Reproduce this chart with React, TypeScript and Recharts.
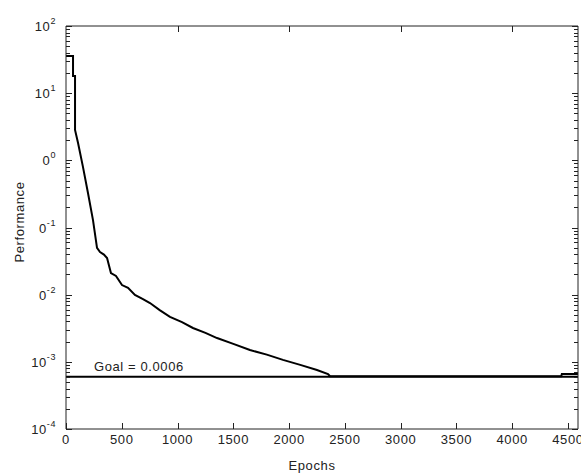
import { LineChart, Line, XAxis, YAxis, ReferenceLine, Label } from "recharts";

// training record (epoch, performance)
const epochs = [
  0, 63, 63, 81, 81, 108, 152, 197, 242, 278, 305, 340, 368, 403, 448, 502, 556,
  618, 690, 753, 840, 932, 1040, 1138, 1250, 1354, 1500, 1649, 1800, 1945, 2100,
  2250, 2349, 2367, 4440, 4445, 4590,
];
const performance = [
  35.7, 35.7, 18, 18, 2.83, 1.81, 0.8, 0.327, 0.129, 0.0496, 0.0432, 0.0395,
  0.0352, 0.021, 0.019, 0.0139, 0.0126, 0.00989, 0.0086, 0.00751, 0.0059,
  0.00466, 0.0039, 0.00319, 0.0027, 0.00226, 0.00185, 0.0015, 0.00128, 0.00107,
  0.0009, 0.000757, 0.000659, 0.00061, 0.00061, 0.00066, 0.00066,
];

const goal = 0.0006;
const goalLabel = "Goal = 0.0006";
const goalEpochs = [0, 4590];

const xTicks = [0, 500, 1000, 1500, 2000, 2500, 3000, 3500, 4000, 4500];
const xTopTicks = [1000, 2000, 3000, 4000];

// decades on the log axis; the left-most "1" is hidden in the original for 3 of them
const yMajor = [1e-4, 1e-3, 1e-2, 1e-1, 1, 10, 100];
const yBase = ["10", "10", "0", "0", "0", "10", "10"];
const yExp = ["-4", "-3", "-2", "-1", "0", "1", "2"];
const minorSteps = [2, 3, 4, 5, 6, 7, 8, 9];

const yTicks: number[] = [];
yMajor.forEach((d, i) => {
  yTicks.push(d);
  if (i < yMajor.length - 1) minorSteps.forEach((m) => yTicks.push(d * m));
});

const data = epochs.map((e, i) => ({ epoch: e, perf: performance[i] }));
const goalData = goalEpochs.map((e) => ({ epoch: e, goal }));

const AXIS = "#222";
const TEXT = "#222";
const FONT = "'Liberation Sans', Arial, sans-serif";

const px = (v: number) => Math.round(v) + 0.5;

function LeftTick(props: any) {
  const { x, y, payload } = props;
  const i = yMajor.indexOf(payload.value);
  const yy = px(y);
  const tick = (
    <line x1={x} x2={x + (i < 0 ? 4 : 6)} y1={yy} y2={yy} stroke={AXIS} shapeRendering="crispEdges" />
  );
  if (i < 0) return tick;
  return (
    <g>
      {tick}
      <text
        x={x - 10}
        y={y + 5}
        textAnchor="end"
        fontSize={13}
        letterSpacing={0.6}
        fill={TEXT}
        fontFamily={FONT}
      >
        {yBase[i]}
        <tspan dy={-7} fontSize={9}>
          {yExp[i]}
        </tspan>
      </text>
    </g>
  );
}

function RightTick(props: any) {
  const { x, y, payload } = props;
  const major = yMajor.indexOf(payload.value) >= 0;
  const yy = px(y);
  return (
    <line x1={x} x2={x - (major ? 6 : 4)} y1={yy} y2={yy} stroke={AXIS} shapeRendering="crispEdges" />
  );
}

function BottomTick(props: any) {
  const { x, y, payload } = props;
  const xx = px(x);
  return (
    <g>
      <line x1={xx} x2={xx} y1={y} y2={y - 6} stroke={AXIS} shapeRendering="crispEdges" />
      <text
        x={x}
        y={y + 15}
        textAnchor="middle"
        fontSize={13}
        letterSpacing={0.6}
        fill={TEXT}
        fontFamily={FONT}
      >
        {payload.value}
      </text>
    </g>
  );
}

function TopTick(props: any) {
  const { x, y } = props;
  const xx = px(x);
  return <line x1={xx} x2={xx} y1={y} y2={y + 6} stroke={AXIS} shapeRendering="crispEdges" />;
}

export default function App() {
  return (
    <div style={{ position: "absolute", left: 0, top: 0, background: "#fff" }}>
      <LineChart
        width={581}
        height={474}
        data={data}
        margin={{ top: 25, right: 2, bottom: 0, left: 0 }}
      >
        <XAxis
          dataKey="epoch"
          type="number"
          domain={[0, 4590]}
          allowDataOverflow
          ticks={xTicks}
          interval={0}
          height={45}
          tickSize={0}
          tickMargin={0}
          tickLine={false}
          axisLine={{ stroke: AXIS }}
          tick={<BottomTick />}
        >
          <Label
            content={() => (
              <text
                x={312}
                y={470}
                textAnchor="middle"
                fontSize={13}
                letterSpacing={0.6}
                fill={TEXT}
                fontFamily={FONT}
              >
                Epochs
              </text>
            )}
          />
        </XAxis>
        <XAxis
          xAxisId="top"
          orientation="top"
          dataKey="epoch"
          type="number"
          domain={[0, 4590]}
          allowDataOverflow
          ticks={xTopTicks}
          interval={0}
          height={1}
          tickSize={0}
          tickMargin={0}
          tickLine={false}
          axisLine={{ stroke: AXIS }}
          tick={<TopTick />}
        />
        <YAxis
          scale="log"
          type="number"
          domain={[1e-4, 100]}
          allowDataOverflow
          ticks={yTicks}
          interval={0}
          width={66}
          tickSize={0}
          tickMargin={0}
          tickLine={false}
          axisLine={{ stroke: AXIS }}
          tick={<LeftTick />}
        >
          <Label
            content={() => (
              <text
                x={24}
                y={222}
                transform="rotate(-90 24 222)"
                textAnchor="middle"
                fontSize={13}
                letterSpacing={0.6}
                fill={TEXT}
                fontFamily={FONT}
              >
                Performance
              </text>
            )}
          />
        </YAxis>
        <YAxis
          yAxisId="right"
          orientation="right"
          scale="log"
          type="number"
          domain={[1e-4, 100]}
          allowDataOverflow
          ticks={yTicks}
          interval={0}
          width={1}
          tickSize={0}
          tickMargin={0}
          tickLine={false}
          axisLine={{ stroke: AXIS }}
          tick={<RightTick />}
        />
        <ReferenceLine
          y={goal}
          stroke="none"
          label={(p: any) => (
            <text
              x={p.viewBox.x + 28}
              y={p.viewBox.y - 6}
              fontSize={13}
              letterSpacing={0.6}
              fill={TEXT}
              fontFamily={FONT}
            >
              {goalLabel}
            </text>
          )}
        />
        <Line
          data={goalData}
          xAxisId="top"
          yAxisId="right"
          type="linear"
          dataKey="goal"
          stroke="#000"
          strokeWidth={2}
          dot={false}
          isAnimationActive={false}
        />
        <Line
          type="linear"
          dataKey="perf"
          stroke="#000"
          strokeWidth={2}
          dot={false}
          isAnimationActive={false}
        />
      </LineChart>
    </div>
  );
}
